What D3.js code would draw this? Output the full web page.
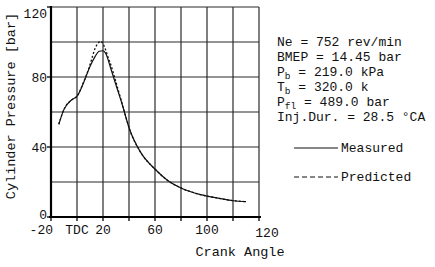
<!DOCTYPE html>
<html>
<head>
<meta charset="utf-8">
<script src="https://cdn.jsdelivr.net/npm/d3@7"></script>
<style>
  body { margin: 0; background: #fff; }
  text { font-family: "Liberation Mono", "DejaVu Sans Mono", monospace; fill: #111; }
</style>
</head>
<body>
<div id="chart"></div>
<script>
// crank angle (deg) and cylinder pressure (bar)
const measuredAngle = [-14, -10, -4, 0, 5, 10, 14, 17, 20, 22.5, 25.5, 29.5, 34.5, 40.5, 48.5, 60.5, 69, 80, 95, 107.5, 120.5, 130];
const measuredP     = [53, 61.5, 67, 69, 76.6, 86, 91.8, 94.7, 95, 92.8, 86, 76.6, 65, 50, 37.5, 27, 21.3, 16.6, 12.8, 10.9, 9.3, 8.8];
const predictedAngle = [-14, -10, -4, 0, 5, 10, 12, 14, 16, 18, 20, 22, 24, 26, 30, 35, 40.5, 48.5, 60.5, 69, 80, 95, 107.5, 120.5, 130];
const predictedP     = [53, 61.5, 67, 69, 77, 87, 92, 96.5, 99, 100.5, 99, 95.5, 91, 87, 77, 64, 50, 37.5, 27, 21.3, 16.6, 12.8, 10.9, 9.3, 8.8];

const xTickLabels = [[-20, '-20'], [0, 'TDC'], [20, '20'], [60, '60'], [100, '100'], [140, '120']];
const yTickLabels = [0, 40, 80, 120];
const infoLines = [
  ['Ne = 752 rev/min', ''],
  ['BMEP = 14.45 bar', ''],
  ['P', 'b', ' = 219.0 kPa'],
  ['T', 'b', ' = 320.0 k'],
  ['P', 'fl', ' = 489.0 bar'],
  ['Inj.Dur. = 28.5 \u00b0CA', '']
];

const W = 435, H = 267;
const svg = d3.select('#chart').append('svg').attr('width', W).attr('height', H);

const x = d3.scaleLinear().domain([-20, 140]).range([51, 259]);
const y = d3.scaleLinear().domain([0, 120]).range([217, 7]);

// grid
const g = svg.append('g');
g.selectAll('.vg').data(d3.range(-20, 141, 20)).enter().append('line')
  .attr('x1', d => x(d)).attr('x2', d => x(d))
  .attr('y1', y(0)).attr('y2', y(120))
  .attr('stroke', '#2a2a2a').attr('stroke-width', 1.2);
g.selectAll('.hg').data(d3.range(0, 121, 20)).enter().append('line')
  .attr('x1', x(-20)).attr('x2', x(140))
  .attr('y1', d => y(d)).attr('y2', d => y(d))
  .attr('stroke', '#2a2a2a').attr('stroke-width', 1.2);

// axes
svg.append('line').attr('x1', x(-20)).attr('x2', x(-20)).attr('y1', y(0) + 1).attr('y2', y(120) - 1)
  .attr('stroke', '#000').attr('stroke-width', 2.2);
svg.append('line').attr('x1', x(-20) - 2).attr('x2', x(140) + 2).attr('y1', y(0)).attr('y2', y(0))
  .attr('stroke', '#000').attr('stroke-width', 2.2);
svg.selectAll('.xt').data(d3.range(-20, 141, 20)).enter().append('line')
  .attr('x1', d => x(d)).attr('x2', d => x(d)).attr('y1', y(0)).attr('y2', y(0) + 4)
  .attr('stroke', '#000').attr('stroke-width', 1.3);
svg.selectAll('.yt').data(yTickLabels).enter().append('line')
  .attr('x1', x(-20) - 4).attr('x2', x(-20)).attr('y1', d => y(d)).attr('y2', d => y(d))
  .attr('stroke', '#000').attr('stroke-width', 1.3);

// tick labels
svg.selectAll('.xl').data(xTickLabels).enter().append('text')
  .attr('x', d => x(d[0]) + (d[0] === 140 ? 8 : d[0] === -20 ? 2 : 0))
  .attr('y', d => y(0) + (d[0] === 140 ? 20 : 17))
  .attr('text-anchor', d => d[0] === -20 ? 'end' : 'middle').attr('font-size', 13)
  .text(d => d[1]);
svg.selectAll('.yl').data(yTickLabels).enter().append('text')
  .attr('x', x(-20) - 4).attr('y', d => y(d) + (d === 120 ? 6 : d === 0 ? -3 : 0))
  .attr('dy', '0.35em').attr('text-anchor', 'end').attr('font-size', 13)
  .text(d => d);

svg.append('text').attr('transform', 'translate(15,106) rotate(-90)')
  .attr('text-anchor', 'middle').attr('font-size', 13.5)
  .text('Cylinder Pressure [bar]');
svg.append('text').attr('x', 240).attr('y', 256)
  .attr('text-anchor', 'middle').attr('font-size', 13.5)
  .text('Crank Angle');

// curves
const line = d3.line().x(d => x(d[0])).y(d => y(d[1])).curve(d3.curveMonotoneX);
svg.append('path').datum(d3.zip(measuredAngle, measuredP))
  .attr('d', line).attr('fill', 'none').attr('stroke', '#111').attr('stroke-width', 1.2);
svg.append('path').datum(d3.zip(predictedAngle, predictedP))
  .attr('d', line).attr('fill', 'none').attr('stroke', '#111').attr('stroke-width', 1.3)
  .attr('stroke-dasharray', '2,2');

// operating conditions
const info = svg.append('g');
infoLines.forEach((l, i) => {
  const t = info.append('text').attr('x', 277).attr('y', 46 + i * 15).attr('font-size', 13).attr('xml:space', 'preserve');
  if (l.length === 2) { t.text(l[0]); return; }
  t.append('tspan').text(l[0]);
  t.append('tspan').attr('dy', 2.5).attr('font-size', 9.5).text(l[1]);
  t.append('tspan').attr('dy', -2.5).attr('font-size', 13).text(l[2]);
});

// legend
const leg = svg.append('g');
[['Measured', null, 148], ['Predicted', '5,3', 177]].forEach(([name, dash, ly]) => {
  leg.append('line').attr('x1', 294).attr('x2', 338).attr('y1', ly).attr('y2', ly)
    .attr('stroke', '#111').attr('stroke-width', 1.2).attr('stroke-dasharray', dash);
  leg.append('text').attr('x', 341).attr('y', ly + 4).attr('font-size', 13).text(name);
});
</script>
</body>
</html>
